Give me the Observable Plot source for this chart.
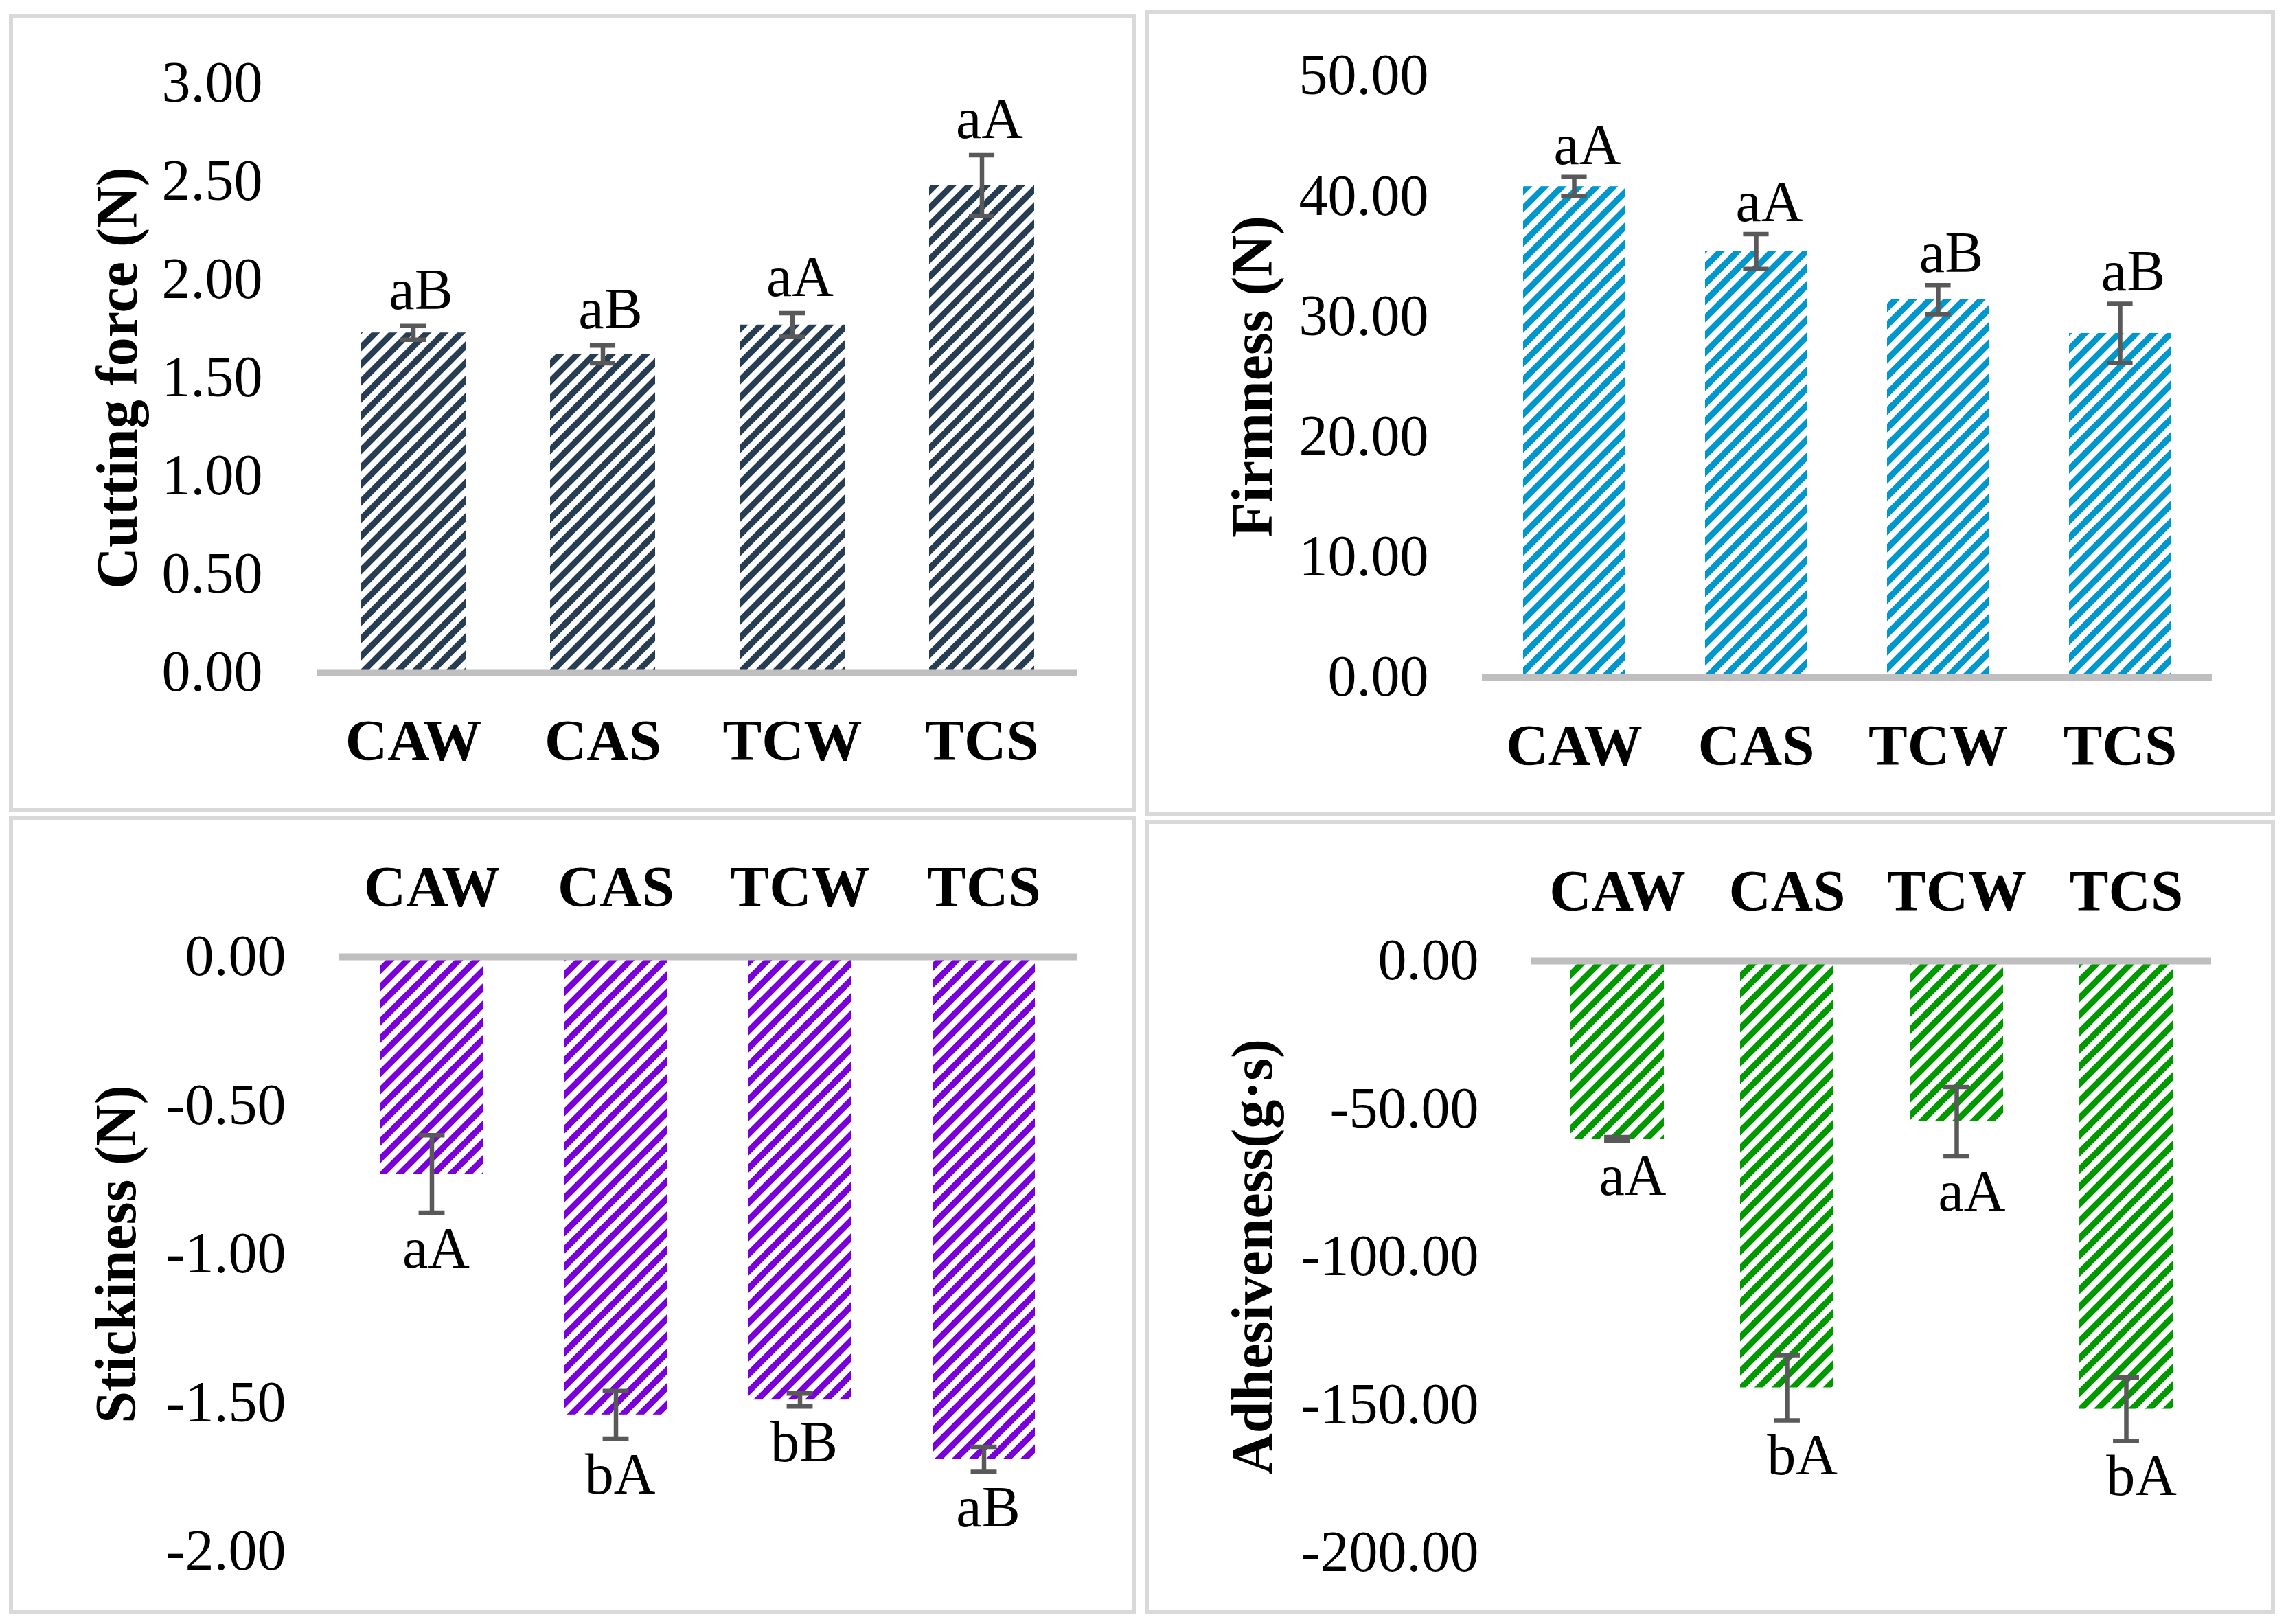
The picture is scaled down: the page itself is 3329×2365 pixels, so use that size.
<!DOCTYPE html>
<html><head><meta charset="utf-8">
<script src="https://cdn.jsdelivr.net/npm/d3@7"></script>
<script src="https://cdn.jsdelivr.net/npm/@observablehq/plot@0.6"></script>
<style>
html,body{margin:0;padding:0;background:#fff;}
#root{position:relative;width:3329px;height:2365px;overflow:hidden;background:#fff;}
.panel{position:absolute;box-sizing:border-box;border:6px solid #d9d9d9;}
.chart{position:absolute;}
.chart svg{max-width:none !important;}
</style></head><body><div id="root"></div>
<script>
const categories = ["CAW", "CAS", "TCW", "TCS"];

const cuttingForce = [1.73, 1.62, 1.77, 2.48];
const cuttingForceSD = [0.035, 0.045, 0.06, 0.155];
const cuttingForceLabels = ["aB", "aB", "aA", "aA"];
const cuttingForceTicks = [0, 0.5, 1, 1.5, 2, 2.5, 3];

const firmness = [40.8, 35.4, 31.4, 28.6];
const firmnessSD = [0.8, 1.45, 1.2, 2.45];
const firmnessLabels = ["aA", "aA", "aB", "aB"];
const firmnessTicks = [0, 10, 20, 30, 40, 50];

const stickiness = [-0.73, -1.54, -1.49, -1.69];
const stickinessSD = [0.13, 0.08, 0.022, 0.042];
const stickinessLabels = ["aA", "bA", "bB", "aB"];
const stickinessTicks = [0, -0.5, -1, -1.5, -2];

const adhesiveness = [-60.1, -144.2, -54.3, -151.4];
const adhesivenessSD = [0.6, 11, 11.7, 10.7];
const adhesivenessLabels = ["aA", "bA", "aA", "bA"];
const adhesivenessTicks = [0, -50, -100, -150, -200];

const root = document.getElementById("root");
const FONT = "'Times New Roman', 'Liberation Serif', serif";

// panel frames
[[13, 20, 1642, 1162], [1667, 14, 1646, 1175], [13, 1188, 1642, 1163], [1667, 1194, 1646, 1157]]
  .forEach(([l, t, w, h]) => {
    const d = document.createElement("div");
    d.className = "panel";
    Object.assign(d.style, {left: l + "px", top: t + "px", width: w + "px", height: h + "px"});
    root.appendChild(d);
  });

function makePanel(cfg) {
  const {id, values, sds, labels, ticks, domain, title, color, left, top, width, height,
    mL, mR, mT, mB, tickPad, titleDx, catAnchor, catPad, labelDx, labelDy, padInner, padOuter, negative} = cfg;
  const data = categories.map((c, i) => ({cat: c, v: values[i], sd: sds[i], lab: labels[i]}));
  const step = (width - mL - mR) / (categories.length - padInner + 2 * padOuter);
  const bw = step * (1 - padInner);
  const capW = 38;
  const inset = (bw - capW) / 2;
  const errStroke = {stroke: "#595959", strokeWidth: 6.5};
  const svg = Plot.plot({
    width, height,
    marginLeft: mL, marginRight: mR, marginTop: mT, marginBottom: mB,
    x: {domain: categories, paddingInner: padInner, paddingOuter: padOuter},
    y: {domain},
    style: {fontFamily: FONT, fontSize: "84px", background: "transparent", overflow: "visible", color: "#000"},
    marks: [
      Plot.barY(data, {x: "cat", y: "v", fill: `url(#${id})`}),
      Plot.ruleY([0], {stroke: "#bfbfbf", strokeWidth: 10}),
      Plot.ruleX(data, {x: "cat", y1: d => d.v - d.sd, y2: d => d.v + d.sd, ...errStroke}),
      Plot.tickY(data, {x: "cat", y: d => d.v - d.sd, inset, ...errStroke}),
      Plot.tickY(data, {x: "cat", y: d => d.v + d.sd, inset, ...errStroke}),
      Plot.text(data, {x: "cat", y: d => negative ? d.v - d.sd : d.v + d.sd, text: "lab",
        dx: labelDx, dy: labelDy, lineAnchor: "middle", fontSize: 84, fill: "#000"}),
      Plot.axisY(ticks, {tickSize: 0, tickPadding: tickPad, tickFormat: d => d.toFixed(2),
        fontSize: 84, label: null}),
      Plot.axisX({anchor: catAnchor, tickSize: 0, tickPadding: catPad, fontSize: 85,
        fontWeight: "bold", lineAnchor: "middle", label: null}),
      Plot.text([title], {frameAnchor: "left", dx: titleDx, rotate: -90, fontSize: 84,
        fontWeight: "bold", lineAnchor: "middle", textAnchor: "middle", fill: "#000"})
    ]
  });
  const ns = "http://www.w3.org/2000/svg";
  const defs = document.createElementNS(ns, "defs");
  const pat = document.createElementNS(ns, "pattern");
  pat.setAttribute("id", id);
  pat.setAttribute("patternUnits", "userSpaceOnUse");
  pat.setAttribute("width", "17.68");
  pat.setAttribute("height", "17.68");
  pat.setAttribute("patternTransform", "rotate(45)");
  const r = document.createElementNS(ns, "rect");
  r.setAttribute("width", "8.84");
  r.setAttribute("height", "17.68");
  r.setAttribute("fill", color);
  pat.appendChild(r);
  defs.appendChild(pat);
  svg.insertBefore(defs, svg.firstChild);
  const wrap = document.createElement("div");
  wrap.className = "chart";
  Object.assign(wrap.style, {left: left + "px", top: top + "px", width: width + "px", height: height + "px"});
  wrap.appendChild(svg);
  root.appendChild(wrap);
}

makePanel({id: "patTL", values: cuttingForce, sds: cuttingForceSD, labels: cuttingForceLabels,
  ticks: cuttingForceTicks, domain: [0, 3], title: "Cutting force (N)", color: "#263d54",
  left: 0, top: 0, width: 1665, height: 1185, mL: 462, mR: 96, mT: 121, mB: 206,
  tickPad: 80, titleDx: -290, catAnchor: "bottom", catPad: 100, labelDx: 11, labelDy: -52,
  padInner: 0.444, padOuter: 0.222, negative: false});

makePanel({id: "patTR", values: firmness, sds: firmnessSD, labels: firmnessLabels,
  ticks: firmnessTicks, domain: [0, 50], title: "Firmness (N)", color: "#0098cc",
  left: 1665, top: 0, width: 1664, height: 1185, mL: 493, mR: 108, mT: 110, mB: 199,
  tickPad: 78, titleDx: -333, catAnchor: "bottom", catPad: 100, labelDx: 19, labelDy: -46,
  padInner: 0.44, padOuter: 0.22, negative: false});

makePanel({id: "patBL", values: stickiness, sds: stickinessSD, labels: stickinessLabels,
  ticks: stickinessTicks, domain: [-2, 0], title: "Stickiness (N)", color: "#7a00d9",
  left: 0, top: 1185, width: 1665, height: 1180, mL: 493, mR: 97, mT: 208, mB: 106,
  tickPad: 77, titleDx: -323, catAnchor: "top", catPad: 101, labelDx: 6, labelDy: 53,
  padInner: 0.445, padOuter: 0.2225, negative: true});

makePanel({id: "patBR", values: adhesiveness, sds: adhesivenessSD, labels: adhesivenessLabels,
  ticks: adhesivenessTicks, domain: [-200, 0], title: "Adhesiveness(g·s)", color: "#009900",
  left: 1665, top: 1185, width: 1664, height: 1180, mL: 565, mR: 109, mT: 214, mB: 104,
  tickPad: 77, titleDx: -405, catAnchor: "top", catPad: 101, labelDx: 22, labelDy: 52,
  padInner: 0.45, padOuter: 0.225, negative: true});
</script>
</body></html>
